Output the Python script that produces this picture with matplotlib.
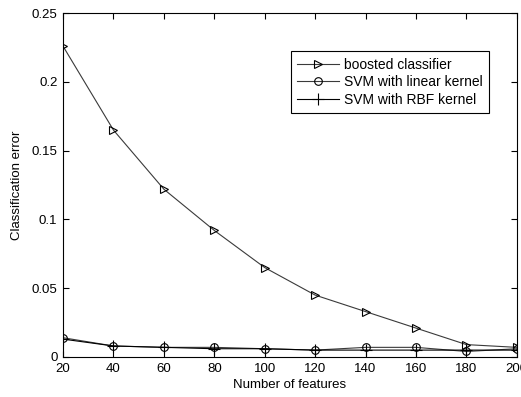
import matplotlib
matplotlib.use("Agg")
import matplotlib.pyplot as plt

plt.rcParams['font.family'] = ['Liberation Sans', 'DejaVu Sans']

features = [20, 40, 60, 80, 100, 120, 140, 160, 180, 200]
boosted = [0.226, 0.165, 0.122, 0.092, 0.065, 0.045, 0.033, 0.021, 0.009, 0.007]
svm_linear = [0.014, 0.008, 0.007, 0.007, 0.006, 0.005, 0.007, 0.007, 0.004, 0.006]
svm_rbf = [0.013, 0.008, 0.007, 0.006, 0.006, 0.005, 0.005, 0.005, 0.005, 0.005]
xticks = [20, 40, 60, 80, 100, 120, 140, 160, 180, 200]
yticks = [0, 0.05, 0.1, 0.15, 0.2, 0.25]
ytick_labels = ['0', '0.05', '0.1', '0.15', '0.2', '0.25']

fig = plt.figure(figsize=(5.21, 3.97), dpi=100)
ax = fig.add_axes([0.121, 0.1008, 0.871, 0.866])

lc = '#3a3a3a'
ax.plot(features, boosted, color=lc, lw=0.8, marker='>', ms=6, mfc='none', mec='black', mew=0.8,
        label='boosted classifier')
ax.plot(features, svm_linear, color=lc, lw=0.8, marker='o', ms=5.5, mfc='none', mec='black', mew=0.8,
        label='SVM with linear kernel')
ax.plot(features, svm_rbf, color='black', lw=0.8, marker='+', ms=8, mec='black', mew=0.8,
        label='SVM with RBF kernel')

ax.set_xlim(20, 200)
ax.set_ylim(0, 0.25)
ax.set_xticks(xticks)
ax.set_xticklabels([str(t) for t in xticks])
ax.set_yticks(yticks)
ax.set_yticklabels(ytick_labels)
ax.tick_params(axis='x', direction='in', top=True, labelsize=9.5, length=4, width=0.8,
               colors='black', pad=4)
ax.tick_params(axis='y', direction='in', right=True, labelsize=9.5, length=4, width=0.8,
               colors='black', pad=4)
for s in ax.spines.values():
    s.set_linewidth(0.8)
    s.set_color('black')

ax.set_xlabel('Number of features', fontsize=9.5, labelpad=3)
ax.set_ylabel('Classification error', fontsize=9.5, labelpad=6)

leg = ax.legend(loc='upper left', bbox_to_anchor=(0.502, 0.889), fontsize=10, fancybox=False,
                framealpha=1, edgecolor='black', borderpad=0.45, labelspacing=0.25,
                handlelength=3.0, handletextpad=0.35, borderaxespad=0)
leg.get_frame().set_linewidth(0.8)

fig.savefig('out.png', dpi=100)
